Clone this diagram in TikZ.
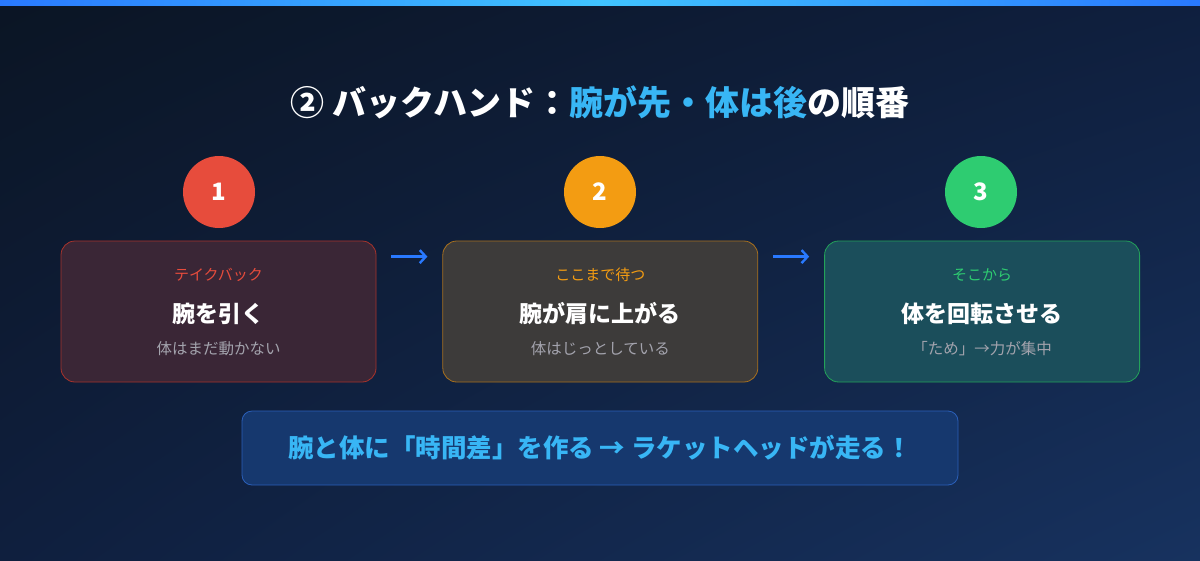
\documentclass[tikz,border=0pt]{standalone}
\usepackage{fontspec}
\setmainfont{Noto Sans CJK JP}
\usetikzlibrary{positioning,arrows.meta,shadings}

\definecolor{bgtl}{HTML}{0B1524}
\definecolor{bgmid}{HTML}{0F1F3E}
\definecolor{bgbr}{HTML}{17325F}
\definecolor{barside}{HTML}{2979FF}
\definecolor{barmid}{HTML}{40C4FF}
\definecolor{accent}{HTML}{38B6F5}
\definecolor{stepred}{HTML}{E74C3C}
\definecolor{steporange}{HTML}{F39C12}
\definecolor{stepgreen}{HTML}{2ECC71}
\definecolor{subgray}{HTML}{A3A3AD}
\definecolor{redfill}{HTML}{3A2636}
\definecolor{redline}{HTML}{A8332C}
\definecolor{orangefill}{HTML}{3D3B3A}
\definecolor{orangeline}{HTML}{A8701E}
\definecolor{greenfill}{HTML}{1B4E5B}
\definecolor{greenline}{HTML}{23A25A}
\definecolor{sumfill}{HTML}{16386E}
\definecolor{sumline}{HTML}{2A5FB8}

\begin{document}
\begin{tikzpicture}[
  x=1pt, y=-1pt,
  numcircle/.style={circle, minimum size=72pt, inner sep=0pt, text=white, font=\bfseries\fontsize{24}{26}\selectfont},
  stepbox/.style={rectangle, rounded corners=14pt, minimum width=315pt, minimum height=141pt, line width=0.8pt},
  tag/.style={font=\fontsize{15}{17}\selectfont},
  headline/.style={text=white, font=\bfseries\fontsize{23}{25}\selectfont},
  subline/.style={text=subgray, font=\fontsize{15.5}{17}\selectfont},
  flow/.style={-{Straight Barb[length=6pt,width=13pt]}, line width=2.4pt, draw=barside, shorten <=15pt, shorten >=15pt},
  node distance=66pt
]
% Background
\useasboundingbox (0,0) rectangle (1200,560);
\shade[upper left=bgtl, lower right=bgbr, upper right=bgmid, lower left=bgmid] (0,0) rectangle (1200,560);
\shade[left color=barside, right color=barmid] (0,0) rectangle (600,5);
\shade[left color=barmid, right color=barside] (600,0) rectangle (1200,5);

% Title
\node[text=white, font=\bfseries\fontsize{34}{38}\selectfont] (title) at (600,102)
  {② バックハンド：\textcolor{accent}{腕が先・体は後}の順番};

% Step boxes
\node[stepbox, fill=redfill, draw=redline] (b1) at (218.5,311.5) {};
\node[stepbox, right=of b1, fill=orangefill, draw=orangeline] (b2) {};
\node[stepbox, right=of b2, fill=greenfill, draw=greenline] (b3) {};

% Numbers
\node[numcircle, fill=stepred] (n1) at (219,192) {1};
\node[numcircle, fill=steporange] (n2) at (600,192) {2};
\node[numcircle, fill=stepgreen] (n3) at (981,192) {3};

% Box texts
\node[tag, text=stepred] (t1) at ([yshift=-34pt]b1.north) {テイクバック};
\node[headline] (h1) at ([yshift=-73pt]b1.north) {腕を引く};
\node[subline] (s1) at ([yshift=-108pt]b1.north) {体はまだ動かない};

\node[tag, text=steporange] (t2) at ([yshift=-34pt]b2.north) {ここまで待つ};
\node[headline] (h2) at ([yshift=-73pt]b2.north) {腕が肩に上がる};
\node[subline] (s2) at ([yshift=-108pt]b2.north) {体はじっとしている};

\node[tag, text=stepgreen] (t3) at ([yshift=-34pt]b3.north) {そこから};
\node[headline] (h3) at ([yshift=-73pt]b3.north) {体を回転させる};
\node[subline] (s3) at ([yshift=-108pt]b3.north) {「ため」→力が集中};

% Flow arrows
\draw[flow] ([yshift=-16pt]b1.north east) -- ([yshift=-16pt]b2.north west);
\draw[flow] ([yshift=-16pt]b2.north east) -- ([yshift=-16pt]b3.north west);

% Summary
\node[rectangle, rounded corners=10pt, minimum width=716pt, minimum height=74pt,
  fill=sumfill, draw=sumline, line width=0.8pt,
  text=accent, font=\bfseries\fontsize{25.5}{28}\selectfont] (sum) at (600,448)
  {腕と体に「時間差」を作る → ラケットヘッドが走る！};
\end{tikzpicture}
\end{document}
